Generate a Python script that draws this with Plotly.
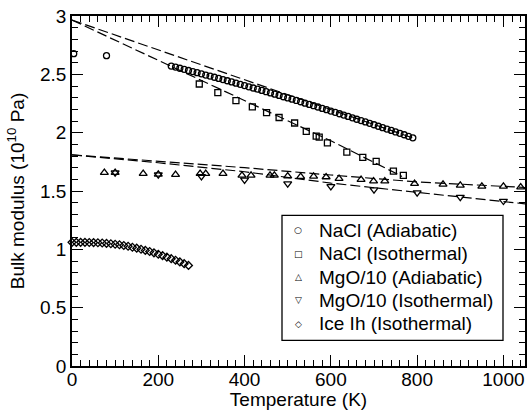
import plotly.graph_objects as go

# ---------------- data ----------------
nacl_ad_T = [4, 80] + list(range(230, 800, 10))
nacl_ad_K = [2.677, 2.660,
             2.571, 2.562, 2.552, 2.543, 2.533, 2.524, 2.514, 2.504, 2.494, 2.485,
             2.475, 2.465, 2.455, 2.445, 2.435, 2.424, 2.414, 2.404, 2.393, 2.383,
             2.373, 2.362, 2.351, 2.341, 2.330, 2.319, 2.308, 2.298, 2.287, 2.276,
             2.265, 2.253, 2.242, 2.231, 2.220, 2.208, 2.197, 2.185, 2.174, 2.162,
             2.151, 2.139, 2.127, 2.115, 2.104, 2.092, 2.080, 2.068, 2.055, 2.043,
             2.031, 2.019, 2.006, 1.994, 1.982, 1.969, 1.956]

nacl_iso_T = [295, 338, 380, 418, 451, 480, 516, 543, 566, 573, 592, 637, 674, 705, 745, 768]
nacl_iso_K = [2.417, 2.343, 2.274, 2.221, 2.172, 2.130, 2.083, 2.011, 1.970, 1.962,
              1.912, 1.834, 1.788, 1.754, 1.671, 1.634]

mgo_ad_T = [75, 100, 165, 200, 240, 297, 310, 350, 394, 415, 459, 469, 500, 530,
            560, 589, 619, 670, 699, 725, 794, 860, 900, 950, 1000, 1040]
mgo_ad_K = [1.657, 1.657, 1.649, 1.643, 1.640, 1.649, 1.649, 1.649, 1.634, 1.634,
            1.634, 1.634, 1.628, 1.624, 1.626, 1.620, 1.606, 1.597, 1.585, 1.585,
            1.563, 1.557, 1.548, 1.540, 1.540, 1.534]

mgo_iso_T = [100, 200, 300, 400, 500, 600, 700, 800, 900, 1000]
mgo_iso_K = [1.657, 1.640, 1.625, 1.595, 1.563, 1.540, 1.511, 1.486, 1.448, 1.414]

ice_T = list(range(0, 280, 10))
ice_K = [1.060, 1.060, 1.060, 1.060, 1.059, 1.058, 1.056, 1.054, 1.051, 1.048,
         1.044, 1.039, 1.033, 1.026, 1.018, 1.010, 1.001, 0.991, 0.981, 0.970,
         0.958, 0.946, 0.933, 0.920, 0.906, 0.892, 0.877, 0.862]

# fitted (dashed) curves
fit_nacl_ad_T = [0, 200, 400, 600, 790]
fit_nacl_ad_K = [2.965, 2.710, 2.455, 2.200, 1.955]
fit_nacl_iso_T = [0, 200, 400, 600, 765]
fit_nacl_iso_K = [2.965, 2.620, 2.272, 1.930, 1.625]
fit_mgo_ad_T = [0, 200, 400, 600, 800, 1050]
fit_mgo_ad_K = [1.810, 1.757, 1.700, 1.637, 1.578, 1.530]
fit_mgo_iso_T = [0, 200, 400, 600, 800, 1050]
fit_mgo_iso_K = [1.810, 1.742, 1.665, 1.568, 1.488, 1.390]

legend_labels = ["NaCl (Adiabatic)", "NaCl (Isothermal)", "MgO/10 (Adiabatic)",
                 "MgO/10 (Isothermal)", "Ice Ih (Isothermal)"]
legend_keys = ["○", "□", "△", "▽", "◇"]

x_ticks = [0, 200, 400, 600, 800, 1000]
y_ticks = [0, 0.5, 1, 1.5, 2, 2.5, 3]
y_ticktext = ["0", "0.5", "1", "1.5", "2", "2.5", "3"]

# ---------------- figure ----------------
FONT = "Liberation Sans, Arial, Helvetica, sans-serif"
fig = go.Figure()

dash_line = dict(color="black", width=1.2, dash="10px,4px")
for tx, ky in [(fit_nacl_ad_T, fit_nacl_ad_K), (fit_nacl_iso_T, fit_nacl_iso_K),
               (fit_mgo_ad_T, fit_mgo_ad_K), (fit_mgo_iso_T, fit_mgo_iso_K)]:
    fig.add_trace(go.Scatter(x=tx, y=ky, mode="lines", line=dash_line,
                             showlegend=False, hoverinfo="skip"))

series = [
    (nacl_ad_T, nacl_ad_K, "circle-open", 6),
    (nacl_iso_T, nacl_iso_K, "square-open", 6),
    (mgo_ad_T, mgo_ad_K, "triangle-up-open", 7),
    (mgo_iso_T, mgo_iso_K, "triangle-down-open", 7),
    (ice_T, ice_K, "diamond-open", 6),
]
for (tx, ky, sym, sz), name in zip(series, legend_labels):
    fig.add_trace(go.Scatter(
        x=tx, y=ky, mode="markers", name=name, showlegend=False,
        cliponaxis=False,
        marker=dict(symbol=sym, size=sz, color="black",
                    line=dict(color="black", width=1.3))))

# legend drawn as real text inside a box (positions in reference pixels)
L, R, B, T = 72, 525, 365.7, 15.7
def px(xp):
    return (xp - L) / (R - L)
def py(yp):
    return (B - yp) / (B - T)

fig.add_shape(type="rect", xref="paper", yref="paper",
              x0=px(282), x1=px(503), y0=py(340), y1=py(215),
              line=dict(color="black", width=1.3), fillcolor="white", layer="above")
row_y = [230, 253.3, 276.7, 300, 323.3]
for lab, key, yy in zip(legend_labels, legend_keys, row_y):
    fig.add_annotation(xref="paper", yref="paper", x=px(298), y=py(yy),
                       text="<b>" + key + "</b>", showarrow=False,
                       xanchor="center", yanchor="middle",
                       font=dict(family="DejaVu Sans", size=9, color="black"))
    fig.add_annotation(xref="paper", yref="paper", x=px(317), y=py(yy),
                       text=lab, showarrow=False, xanchor="left", yanchor="middle",
                       font=dict(family=FONT, size=19, color="black"))

axis_common = dict(
    showline=True, linecolor="black", linewidth=1.6, mirror="allticks",
    ticks="inside", ticklen=11, tickwidth=1.2, tickcolor="black",
    showgrid=False, zeroline=False, ticklabeloverflow="allow",
    tickfont=dict(family=FONT, size=19, color="black"),
)
fig.update_xaxes(
    range=[0, 1050], tickvals=x_ticks, ticklabelstandoff=-5,
    minor=dict(dtick=20, ticks="inside", ticklen=6, tickwidth=1, tickcolor="black",
               showgrid=False),
    title=dict(text="Temperature (K)", font=dict(family=FONT, size=19, color="black"),
               standoff=0),
    **axis_common)
fig.update_yaxes(
    range=[0, 3], tickvals=y_ticks, ticktext=y_ticktext,
    minor=dict(dtick=0.1, ticks="inside", ticklen=6, tickwidth=1, tickcolor="black",
               showgrid=False),
    title=dict(text="Bulk modulus (10<sup>10</sup> Pa)",
               font=dict(family=FONT, size=19, color="black"), standoff=10),
    **axis_common)

fig.update_layout(
    width=529, height=410,
    margin=dict(l=72, r=4, t=16, b=44, autoexpand=False),
    paper_bgcolor="white", plot_bgcolor="white",
    showlegend=False,
)
# remove the browser's default 8 px body margin so the figure fills the window
fig.write_html("out.html", config={"displayModeBar": False},
               post_script="document.body.style.margin='0';")
